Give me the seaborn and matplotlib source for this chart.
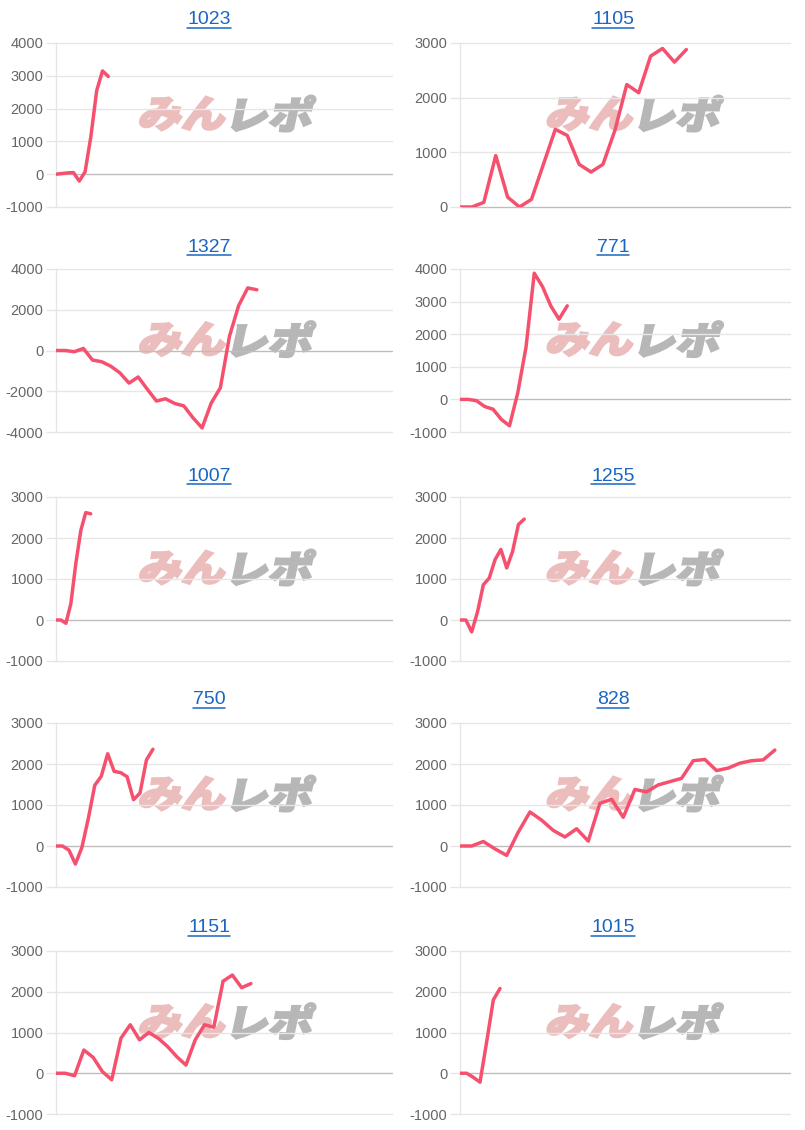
import numpy as np
import matplotlib
matplotlib.use("Agg")
import matplotlib.pyplot as plt
import seaborn as sns
from matplotlib.lines import Line2D
from matplotlib.patches import PathPatch
from matplotlib.textpath import TextPath
from matplotlib.font_manager import FontProperties
from matplotlib.transforms import IdentityTransform, Affine2D

# === DATA ===
titles = ["1023", "1105", "1327", "771", "1007", "1255", "750", "828", "1151", "1015"]

v1023 = [0, 20, 40, 50, -210, 70, 1150, 2550, 3150, 2980]
v1105 = [0, 0, 85, 940, 180, 0, 140, 780, 1420, 1310, 780, 640, 780, 1400,
         2240, 2090, 2760, 2900, 2650, 2880]
v1327 = [0, 0, -60, 100, -470, -550, -770, -1100, -1600, -1300, -1900, -2480,
         -2370, -2600, -2720, -3300, -3800, -2580, -1830, 700, 2200, 3070, 2980]
v771 = [0, 0, -40, -220, -300, -610, -810, 200, 1600, 3870, 3460, 2870, 2460, 2870]
v1007 = [0, 0, -80, 400, 1380, 2180, 2620, 2590]
v1255 = [0, 0, -290, 200, 860, 1020, 1470, 1720, 1270, 1670, 2330, 2460]
v750 = [0, 0, -100, -440, -40, 670, 1480, 1700, 2250, 1820, 1790, 1690, 1130,
        1290, 2100, 2360]
v828 = [0, 0, 110, -70, -230, 340, 830, 630, 380, 220, 420, 120, 1040, 1140, 700,
        1380, 1320, 1490, 1570, 1650, 2080, 2110, 1840, 1900, 2020, 2080, 2100, 2340]
v1151 = [0, 0, -60, 570, 390, 40, -160, 860, 1190, 820, 1000, 860, 660, 410, 200,
         820, 1190, 1130, 2260, 2410, 2100, 2200]
v1015 = [0, 0, -100, -220, 770, 1800, 2080]

series = [v1023, v1105, v1327, v771, v1007, v1255, v750, v828, v1151, v1015]

# y axis ranges / tick steps per panel
y_ranges = [(-1000, 4000, 1000), (0, 3000, 1000), (-4000, 4000, 2000), (-1000, 4000, 1000),
            (-1000, 3000, 1000), (-1000, 3000, 1000), (-1000, 3000, 1000), (-1000, 3000, 1000),
            (-1000, 3000, 1000), (-1000, 3000, 1000)]
# width of the x axis in data steps
x_slots = [57.8, 27.7, 36.8, 40, 67.8, 56.5, 52, 28.3, 36.2, 49.5]

# === STYLE ===
LINE = "#f5516f"
GRID = "#e6e6e6"
ZERO = "#bdbdbd"
LINK = "#1a66c2"
PINK = "#ebbdbd"
GREY = "#b7b7b7"

W, H = 805, 1130
sns.set_theme(style="white")
plt.rcParams["font.family"] = ["Liberation Sans", "DejaVu Sans"]
plt.rcParams["axes.unicode_minus"] = False

fig = plt.figure(figsize=(W / 100, H / 100), dpi=100)

col_x = [(56, 392), (460, 790)]
row_y = [(43, 207), (269, 432), (497, 661), (723, 887), (951, 1114)]
title_y = [20, 247, 476, 700, 928]
title_x = [209, 613]
logo_cx = [0.515, 0.535]

logo_font = FontProperties(family="Noto Sans CJK JP", weight="black")


def logo_piece(ax, text, color, anchor_px, align):
    # slanted, widened watermark text drawn in pixel space
    path = TextPath((0, 0), text, size=38, prop=logo_font)
    ext = path.get_extents()
    tr = Affine2D().translate(-ext.x0, -(ext.y0 + ext.y1) / 2).scale(1.15, 1.0).skew_deg(12, 0)
    p = tr.transform_path(path)
    e = p.get_extents()
    dx = anchor_px[0] - (e.x1 if align == "right" else e.x0)
    p = Affine2D().translate(dx, anchor_px[1]).transform_path(p)
    patch = PathPatch(p, facecolor=color, edgecolor=color, linewidth=1.6, zorder=0.5,
                      transform=IdentityTransform())
    ax.add_patch(patch)


title_texts = []
for i, (name, vals) in enumerate(zip(titles, series)):
    r, c = divmod(i, 2)
    x0, x1 = col_x[c]
    top, bot = row_y[r]
    ax = fig.add_axes([x0 / W, 1 - bot / H, (x1 - x0) / W, (bot - top) / H])

    sns.lineplot(x=np.arange(len(vals)), y=vals, ax=ax, color=LINE,
                 linewidth=2.5, zorder=5)

    lo, hi, step = y_ranges[i]
    ax.set_xlim(0, x_slots[i])
    ax.set_ylim(lo, hi)
    ax.set_yticks(np.arange(lo, hi + 1, step))
    ax.set_xticks([])
    ax.set_xlabel("")
    ax.set_ylabel("")
    for yv in np.arange(lo, hi + 1, step):
        ax.axhline(yv, color=ZERO if yv == 0 else GRID, lw=1, zorder=1, clip_on=False)
    for s in ["top", "right", "bottom"]:
        ax.spines[s].set_visible(False)
    ax.spines["left"].set_color(GRID)
    ax.spines["left"].set_linewidth(1)
    ax.tick_params(axis="y", length=7, width=1, color=GRID, labelcolor="#666666",
                   labelsize=10.5, pad=2, left=True)

    # watermark logo
    cx, cy = ax.transAxes.transform((logo_cx[c], 0.57))
    logo_piece(ax, "みん", PINK, (cx - 4, cy), "right")
    logo_piece(ax, "レポ", GREY, (cx + 3, cy), "left")

    t = fig.text(title_x[c] / W, 1 - title_y[r] / H, name, ha="center", va="center",
                 fontsize=14, color=LINK)
    title_texts.append(t)

# underline the titles (they are links)
fig.canvas.draw()
for t in title_texts:
    bb = t.get_window_extent()
    fig.add_artist(Line2D([bb.x0, bb.x1], [bb.y0 + 1, bb.y0 + 1], color=LINK, lw=1.1,
                          transform=IdentityTransform()))

fig.savefig("out.png", dpi=100, facecolor="white")
